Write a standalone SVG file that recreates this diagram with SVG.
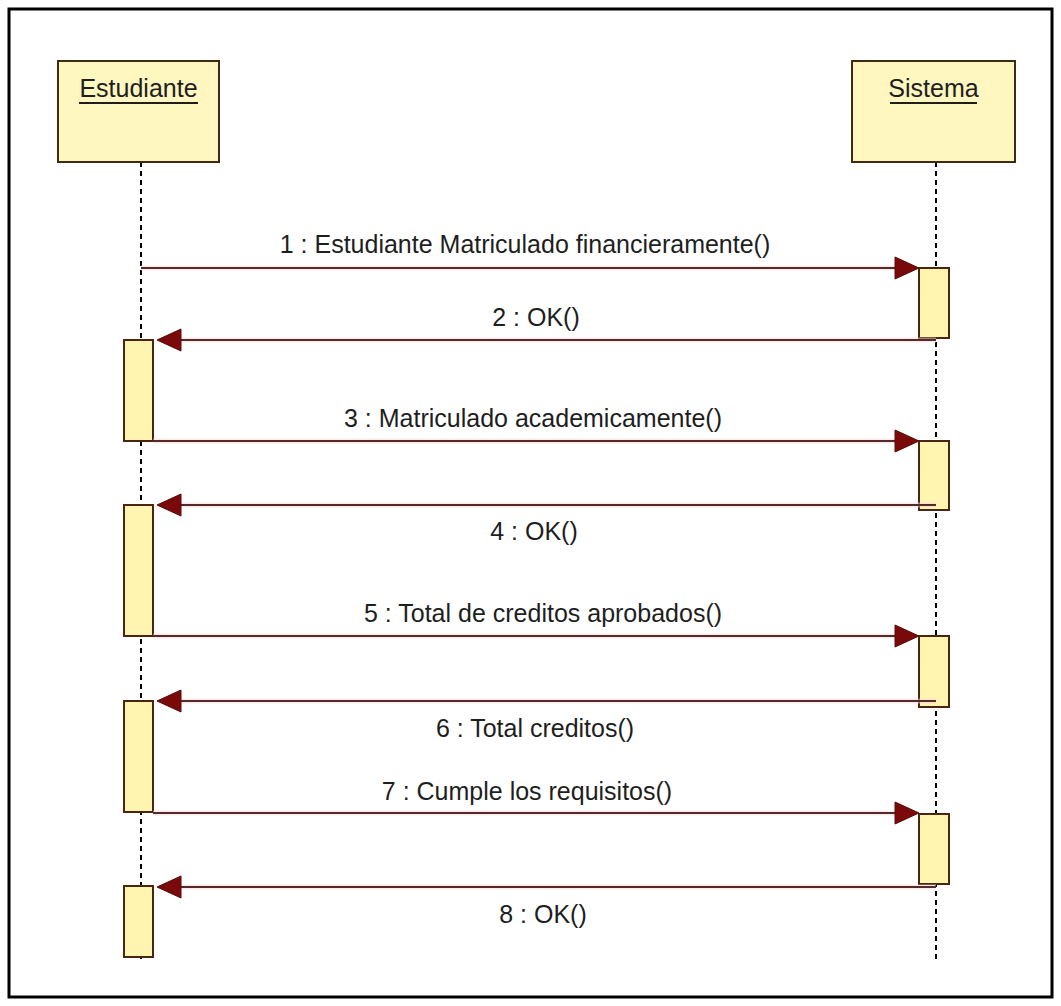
<svg xmlns="http://www.w3.org/2000/svg" width="1061" height="1006" viewBox="0 0 1061 1006">
  <style>
    .frame { fill: #ffffff; stroke: #000000; stroke-width: 3; }
    .head { fill: #fff6c0; stroke: #3f2a14; stroke-width: 2; }
    .bar { fill: #fff4b0; stroke: #4a2612; stroke-width: 2; }
    .life { stroke: #000000; stroke-width: 2; stroke-dasharray: 5 4; fill: none; }
    .halo { stroke: #f7d6d6; stroke-width: 5; fill: none; }
    .msg { stroke: #552a2a; stroke-width: 2; fill: none; }
    .tip { fill: #7a0a0a; stroke: #5a0a0a; stroke-width: 1; }
    .lbl { font-family: "Liberation Sans", Arial, sans-serif; font-size: 25px; fill: #1e1e1e; text-anchor: middle; }
    .ul { stroke: #1e1e1e; stroke-width: 2; }
  </style>

  <rect class="frame" x="9" y="9" width="1043" height="988"/>

  <!-- lifelines -->
  <g id="lifelines">
    <line class="life" x1="141" y1="162" x2="141" y2="962"/>
    <line class="life" x1="936" y1="162" x2="936" y2="962"/>
  </g>

  <!-- participants -->
  <g id="estudiante">
    <rect class="head" x="58" y="61" width="161" height="101"/>
    <text class="lbl" x="138.5" y="97">Estudiante</text>
    <line class="ul" x1="79" y1="103" x2="198" y2="103"/>
  </g>
  <g id="sistema">
    <rect class="head" x="852" y="61" width="163" height="101"/>
    <text class="lbl" x="933.5" y="97">Sistema</text>
    <line class="ul" x1="890" y1="103" x2="977" y2="103"/>
  </g>

  <!-- activation bars -->
  <g id="activations">
    <rect class="bar" x="919" y="268" width="30" height="70"/>
    <rect class="bar" x="919" y="441" width="30" height="69"/>
    <rect class="bar" x="919" y="636" width="30" height="71"/>
    <rect class="bar" x="919" y="814" width="30" height="70"/>
    <rect class="bar" x="124" y="340" width="29" height="101"/>
    <rect class="bar" x="124" y="505" width="29" height="131"/>
    <rect class="bar" x="124" y="701" width="29" height="111"/>
    <rect class="bar" x="124" y="886" width="29" height="71"/>
  </g>

  <!-- messages -->
  <g id="connectors">
    <g opacity="0.5">
      <line class="halo" x1="141" y1="268" x2="896" y2="268"/>
      <line class="halo" x1="936" y1="340" x2="180" y2="340"/>
      <line class="halo" x1="153" y1="441" x2="896" y2="441"/>
      <line class="halo" x1="936" y1="505" x2="180" y2="505"/>
      <line class="halo" x1="153" y1="636" x2="896" y2="636"/>
      <line class="halo" x1="936" y1="701" x2="180" y2="701"/>
      <line class="halo" x1="153" y1="813" x2="896" y2="813"/>
      <line class="halo" x1="936" y1="887" x2="180" y2="887"/>
    </g>

    <line class="msg" x1="141" y1="268" x2="900" y2="268"/>
    <polygon class="tip" points="919,268 895,257 895,279"/>

    <line class="msg" x1="936" y1="340" x2="176" y2="340"/>
    <polygon class="tip" points="157,340 181,329 181,351"/>

    <line class="msg" x1="153" y1="441" x2="900" y2="441"/>
    <polygon class="tip" points="919,441 895,430 895,452"/>

    <line class="msg" x1="936" y1="505" x2="176" y2="505"/>
    <polygon class="tip" points="157,505 181,494 181,516"/>

    <line class="msg" x1="153" y1="636" x2="900" y2="636"/>
    <polygon class="tip" points="919,636 895,625 895,647"/>

    <line class="msg" x1="936" y1="701" x2="176" y2="701"/>
    <polygon class="tip" points="157,701 181,690 181,712"/>

    <line class="msg" x1="153" y1="813" x2="900" y2="813"/>
    <polygon class="tip" points="919,813 895,802 895,824"/>

    <line class="msg" x1="936" y1="887" x2="176" y2="887"/>
    <polygon class="tip" points="157,887 181,876 181,898"/>
  </g>

  <!-- message labels -->
  <g id="labels">
    <text class="lbl" x="525" y="253">1 : Estudiante Matriculado financieramente()</text>
    <text class="lbl" x="536" y="326">2 : OK()</text>
    <text class="lbl" x="533" y="427">3 : Matriculado academicamente()</text>
    <text class="lbl" x="534" y="540">4 : OK()</text>
    <text class="lbl" x="543" y="622">5 : Total de creditos aprobados()</text>
    <text class="lbl" x="535" y="737">6 : Total creditos()</text>
    <text class="lbl" x="527" y="800">7 : Cumple los requisitos()</text>
    <text class="lbl" x="543" y="923">8 : OK()</text>
  </g>
</svg>
